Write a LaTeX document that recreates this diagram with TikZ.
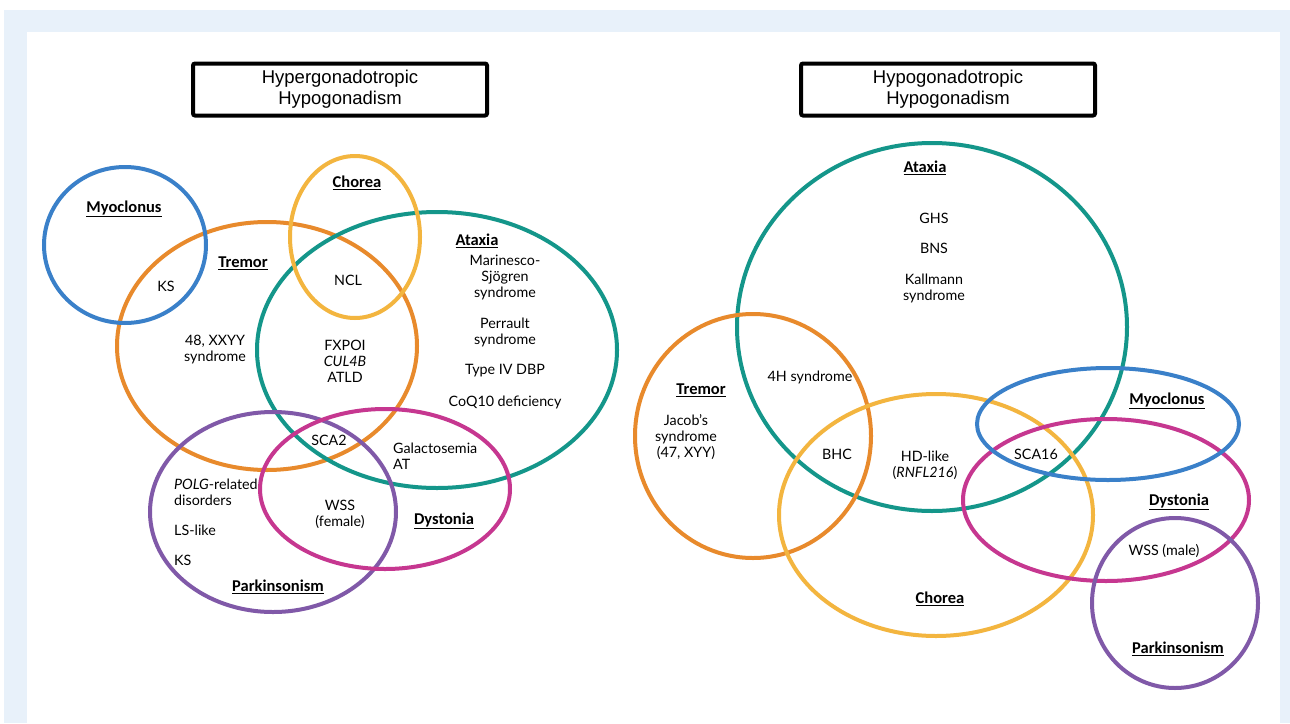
\documentclass[tikz,border=0pt]{standalone}
\usepackage{fontspec}
\setmainfont{Lato}
\newfontfamily\headfont{Carlito}
\newfontfamily\titlefont{Liberation Sans}
\definecolor{bgblue}{HTML}{E8F1FA}
\definecolor{cteal}{HTML}{14968A}
\definecolor{corange}{HTML}{E88A2C}
\definecolor{cyellow}{HTML}{F3B53F}
\definecolor{cblue}{HTML}{3A80C9}
\definecolor{cmag}{HTML}{C63790}
\definecolor{cpurp}{HTML}{8059A8}
\newcommand{\hd}[1]{\underline{\textbf{#1}}}
\begin{document}
\begin{tikzpicture}[x=1pt,y=-1pt,
  ring/.style={line width=4pt},
  lbl/.style={font=\fontsize{14.3}{16}\selectfont, align=center, inner sep=0pt},
  lbll/.style={font=\fontsize{14.3}{16}\selectfont, align=left, inner sep=0pt},
  head/.style={font=\headfont\fontsize{16.5}{18}\selectfont, inner sep=0pt},
  titlebox/.style={draw, line width=4pt, rounded corners=2pt, minimum width=294pt, minimum height=52pt, align=center, font=\titlefont\fontsize{18.5}{21}\selectfont}]
\useasboundingbox (0,0) rectangle (1290,723);
\fill[white] (0,0) rectangle (1290,723);
\fill[bgblue] (4,10) rectangle (1290,723);
\fill[white] (27,32) rectangle (1280,723);

% titles
\node[titlebox] (t1) at (340,89.5) {Hypergonadotropic\\Hypogonadism};
\node[titlebox] (t2) at (948,89.5) {Hypogonadotropic\\Hypogonadism};

% left diagram
\draw[ring,corange] (267,346) ellipse [x radius=150, y radius=124];
\draw[ring,cblue] (125,245) ellipse [x radius=81, y radius=78];
\draw[ring,cteal] (437,350) ellipse [x radius=180, y radius=138];
\draw[ring,cyellow] (355,237) ellipse [x radius=65, y radius=81];
\draw[ring,cpurp] (273,512) ellipse [x radius=123, y radius=100];
\draw[ring,cmag] (385,489) ellipse [x radius=125, y radius=80];

\node[head] (lmyo) at (124,209) {\hd{Myoclonus}};
\node[lbl] (lks1) at (166,286) {KS};
\node[head] (ltre) at (243,263) {\hd{Tremor}};
\node[head] (lcho) at (357,183) {\hd{Chorea}};
\node[lbl] (lncl) at (348,280) {NCL};
\node[head] (lata) at (477,241) {\hd{Ataxia}};
\node[lbl] (lmss) at (505,278) {Marinesco-\\Sjögren\\syndrome};
\node[lbl] (lper) at (505,332) {Perrault\\syndrome};
\node[lbl] (ldbp) at (505,371) {Type IV DBP};
\node[lbl] (lcoq) at (505,402) {CoQ10 deficiency};
\node[lbl] (lxxyy) at (215,350) {48, XXYY\\syndrome};
\node[lbl] (lfx) at (345,361) {FXPOI\\\textit{CUL4B}\\ATLD};
\node[lbl] (lsca2) at (329,440) {SCA2};
\node[lbll,anchor=west] (lgal) at (393,456) {Galactosemia\\AT};
\node[lbll,anchor=west] (lpolg) at (174,492) {\textit{POLG}-related\\disorders};
\node[lbll,anchor=west] (lls) at (174,530) {LS-like};
\node[lbll,anchor=west] (lks2) at (174,560) {KS};
\node[lbl] (lwss) at (340,514) {WSS\\(female)};
\node[head] (ldys) at (444,521) {\hd{Dystonia}};
\node[head] (lpar) at (278,587) {\hd{Parkinsonism}};

% right diagram
\draw[ring,cteal] (932,327) ellipse [x radius=195, y radius=184];
\draw[ring,corange] (753,436) ellipse [x radius=118, y radius=122];
\draw[ring,cyellow] (936,515) ellipse [x radius=157, y radius=121];
\draw[ring,cmag] (1106,500) ellipse [x radius=143, y radius=81];
\draw[ring,cblue] (1108,424) ellipse [x radius=131, y radius=56];
\draw[ring,cpurp] (1175,603) ellipse [x radius=83, y radius=85];

\node[head] (rata) at (925,168) {\hd{Ataxia}};
\node[lbl] (rghs) at (934,218) {GHS};
\node[lbl] (rbns) at (934,248) {BNS};
\node[lbl] (rkal) at (934,288) {Kallmann\\syndrome};
\node[lbl] (r4h) at (810,377) {4H syndrome};
\node[head] (rtre) at (701,390) {\hd{Tremor}};
\node[lbl] (rjac) at (686,437) {Jacob's\\syndrome\\(47, XYY)};
\node[lbl] (rbhc) at (837,454) {BHC};
\node[lbl] (rhd) at (925,465) {HD-like\\(\textit{RNFL216})};
\node[lbl] (rsca) at (1036,454) {SCA16};
\node[head] (rmyo) at (1167,401) {\hd{Myoclonus}};
\node[head] (rdys) at (1179,502) {\hd{Dystonia}};
\node[lbl] (rwss) at (1164,551) {WSS (male)};
\node[head] (rcho) at (940,599) {\hd{Chorea}};
\node[head] (rpar) at (1178,649) {\hd{Parkinsonism}};
\end{tikzpicture}
\end{document}
